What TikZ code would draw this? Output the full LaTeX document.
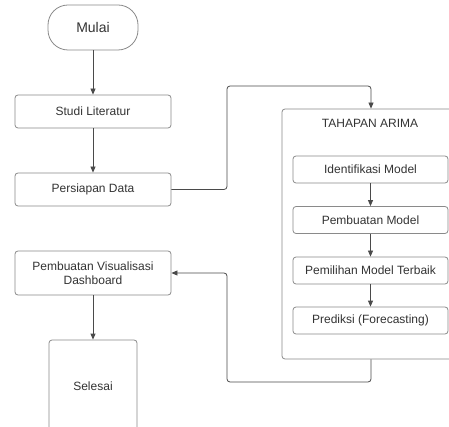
\documentclass[tikz,border=0pt]{standalone}
\usepackage{fontspec}
\setmainfont{Liberation Sans}
\usetikzlibrary{arrows.meta}
\definecolor{txt}{HTML}{333333}
\definecolor{bord}{HTML}{8A8A8A}
\definecolor{conn}{HTML}{4A4A4A}
\tikzset{
  box/.style={draw=bord, line width=0.8pt, rounded corners=3pt, fill=white, text=txt, font=\fontsize{12}{14}\selectfont, align=center, inner sep=0pt},
  conn/.style={draw=conn, line width=0.8pt, rounded corners=3pt},
  arr/.style={conn, -{Triangle[length=6pt,width=5pt]}}
}
\begin{document}
\begin{tikzpicture}[x=1pt,y=-1pt]
\clip (0,0) rectangle (449,427);
\fill[white] (0,0) rectangle (449,427);
% left column
\node[box, rounded corners=20pt, minimum width=90pt, minimum height=45pt, font=\fontsize{14}{16}\selectfont] (mulai) at (93,27.5) {Mulai};
\node[box, minimum width=156pt, minimum height=33pt] (studi) at (93,111.5) {Studi Literatur};
\node[box, minimum width=156pt, minimum height=33pt] (pd) at (93,189.5) {Persiapan Data};
\node[box, minimum width=156pt, minimum height=44pt] (vis) at (93,273) {Pembuatan Visualisasi\\Dashboard};
\node[box, minimum width=88pt, minimum height=92pt] (sel) at (93,386) {Selesai};
% container
\node[box, minimum width=178pt, minimum height=250pt] (arima) at (371,234) {};
\node[text=txt, font=\fontsize{12}{14}\selectfont, inner sep=0pt] (title) at (370,123) {TAHAPAN ARIMA};
\node[box, minimum width=155pt, minimum height=27pt] (idm) at (370.5,169.5) {Identifikasi Model};
\node[box, minimum width=155pt, minimum height=27pt] (pm) at (370.5,220) {Pembuatan Model};
\node[box, minimum width=155pt, minimum height=27pt] (pmt) at (370.5,270.5) {Pemilihan Model Terbaik};
\node[box, minimum width=155pt, minimum height=27pt] (pred) at (370.5,320.5) {Prediksi (Forecasting)};
% coordinates for routing
\coordinate (r1) at (227,86);
\coordinate (r2) at (227,382);
% connectors
\draw[arr] (mulai) -- (studi);
\draw[arr] (studi) -- (pd);
\draw[arr] (pd.east) -| (r1) -| (arima.north);
\draw[arr] (idm) -- (pm);
\draw[arr] (pm) -- (pmt);
\draw[arr] (pmt) -- (pred);
\draw[arr] (arima.south) |- (r2) |- (vis.east);
\draw[arr] (vis) -- (sel);
\end{tikzpicture}
\end{document}
